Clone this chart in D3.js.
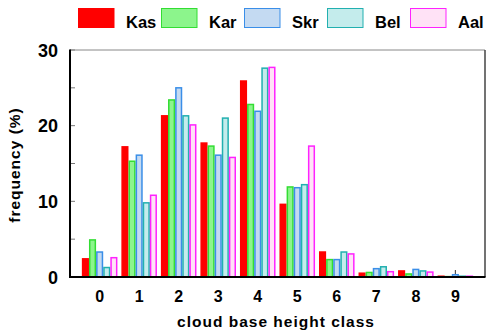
<!DOCTYPE html>
<html><head><meta charset="utf-8">
<script src="https://cdn.jsdelivr.net/npm/d3@7"></script>
<style>
html,body{margin:0;padding:0;background:#fff;}
svg{display:block;font-family:"Liberation Sans",Arial,Helvetica,sans-serif;font-weight:bold;}
</style></head>
<body><svg id="c" width="490" height="334"></svg>
<script>
const classes = [0,1,2,3,4,5,6,7,8,9];
const seriesNames = ["Kas","Kar","Skr","Bel","Aal"];
const kas = [2.5, 17.3, 21.4, 17.8, 26.0, 9.7, 3.4, 0.6, 0.9, 0.2];
const kar = [5.0, 15.4, 23.5, 17.4, 22.9, 12.0, 2.4, 0.7, 0.5, 0.15];
const skr = [3.4, 16.2, 25.1, 16.2, 22.0, 11.9, 2.4, 1.2, 1.1, 0.4];
const bel = [1.35, 9.9, 21.4, 21.1, 27.7, 12.3, 3.4, 1.45, 0.9, 0.2];
const aal = [2.65, 10.9, 20.2, 15.9, 27.8, 17.4, 3.15, 0.8, 0.75, 0.2];
const yTicks = [0,10,20,30];
const yMinorTicks = [0,5,10,15,20,25,30];
const fills = ["#ff0000","#8cf58c","#c4daf2","#c4ecec","#ffe2f6"];
const strokes = ["#ff0000","#33dd33","#3a8ee8","#22b0b0","#ff22ff"];
const values = [kas, kar, skr, bel, aal];

const svg = d3.select("#c");
const L=70, R=485, T=50, B=277;
const x = d3.scaleLinear().domain([-0.75, 9.75]).range([L, R]);
const y = d3.scaleLinear().domain([0, 30]).range([B, T]);
const bw = 0.18;

// y minor ticks inward
svg.append("g").selectAll("line").data(yMinorTicks).join("line")
  .attr("x1", L).attr("x2", L+5).attr("y1", d=>y(d)).attr("y2", d=>y(d))
  .attr("stroke","#777").attr("stroke-width",1);
// x ticks inward
svg.append("g").selectAll("line").data(classes).join("line")
  .attr("x1", d=>x(d)).attr("x2", d=>x(d)).attr("y1", B).attr("y2", B-7)
  .attr("stroke","#333").attr("stroke-width",1);

// bars
values.forEach((vals, j) => {
  svg.append("g").selectAll("rect").data(classes).join("rect")
    .attr("x", d => x(d - 0.45 + j*bw) + 0.75)
    .attr("width", d => x(bw) - x(0) - 1.5)
    .attr("y", d => y(vals[d]) + 0.75)
    .attr("height", d => Math.max(0.1, y(0) - y(vals[d]) - 0.75))
    .attr("fill", fills[j]).attr("stroke", strokes[j]).attr("stroke-width", 1.5);
});

// frame
svg.append("line").attr("x1",L).attr("x2",R).attr("y1",T).attr("y2",T).attr("stroke","#888").attr("stroke-width",1);
svg.append("line").attr("x1",R).attr("x2",R).attr("y1",T).attr("y2",B).attr("stroke","#444").attr("stroke-width",1.5);
svg.append("line").attr("x1",L).attr("x2",L).attr("y1",T-0.5).attr("y2",B+1).attr("stroke","#000").attr("stroke-width",2);
svg.append("line").attr("x1",L-1).attr("x2",R+0.5).attr("y1",B).attr("y2",B).attr("stroke","#000").attr("stroke-width",2);

// y tick labels
svg.append("g").selectAll("text").data(yTicks).join("text")
  .attr("x", 58).attr("y", d=>y(d)+6.5).attr("text-anchor","end")
  .attr("font-size",18).text(d=>d);
// x tick labels
svg.append("g").selectAll("text").data(classes).join("text")
  .attr("x", d=>x(d)).attr("y", 302).attr("text-anchor","middle")
  .attr("font-size",16).text(d=>d);

// axis titles
svg.append("text").attr("x", 276).attr("y", 327).attr("text-anchor","middle")
  .attr("font-size",15.5).attr("letter-spacing",1).text("cloud base height class");
svg.append("text").attr("transform","translate(20,165) rotate(-90)").attr("text-anchor","middle")
  .attr("font-size",15.5).attr("letter-spacing",1).text("frequency (%)");

// legend
const lg = svg.append("g");
seriesNames.forEach((n, j) => {
  const lx = 78.5 + j*83;
  lg.append("rect").attr("x", lx).attr("y", 8.5).attr("width", 35.5).attr("height", 19)
    .attr("fill", fills[j]).attr("stroke", strokes[j]).attr("stroke-width", 1);
  lg.append("text").attr("x", lx + 47.5).attr("y", 27.5).attr("font-size", 16.5).text(n);
});
</script></body></html>
